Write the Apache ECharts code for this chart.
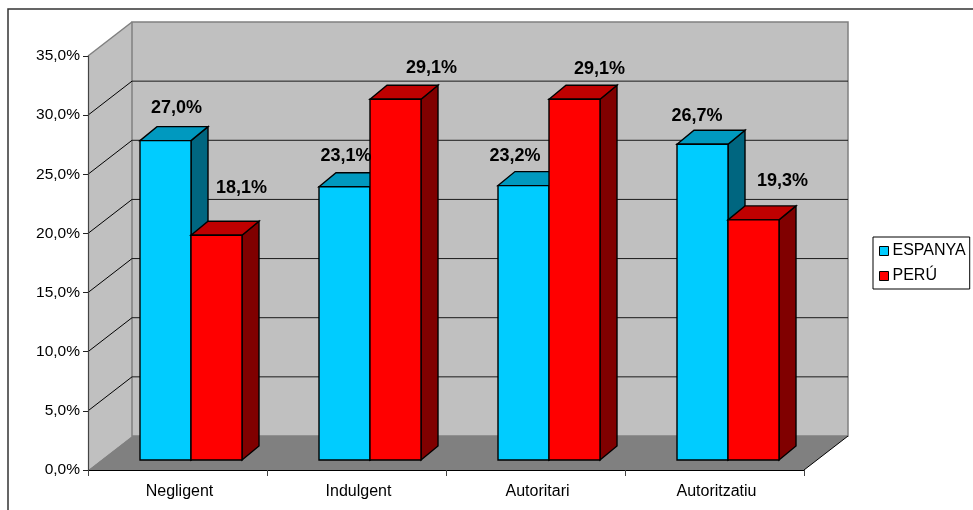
<!DOCTYPE html>
<html>
<head>
<meta charset="utf-8">
<style>html,body{margin:0;padding:0;background:#fff;overflow:hidden}#c{width:973px;height:510px}</style>
<script src="https://cdn.jsdelivr.net/npm/echarts@6/dist/echarts.min.js"></script>
</head>
<body>
<div id="c"></div>
<script>
const categories = ['Negligent', 'Indulgent', 'Autoritari', 'Autoritzatiu'];
const espanyaValues = [27.0, 23.1, 23.2, 26.7];
const peruValues = [19.0, 30.5, 30.5, 20.3];
const espanyaLabels = ['27,0%', '23,1%', '23,2%', '26,7%'];
const peruLabels = ['18,1%', '29,1%', '29,1%', '19,3%'];
const yTicks = [0, 5, 10, 15, 20, 25, 30, 35];

// label offsets from bar top-centre, in pixels
const espanyaLabelOffsets = [[11.5, -33], [2, -31], [-8, -30], [-5, -28]];
const peruLabelOffsets = [[25.5, -47], [36.5, -31], [25.5, -30], [29.5, -39]];

const WALL_DX = 44, WALL_DY = -34;
const BAR_FRONT_DX = 13.5, BAR_FRONT_DY = -10;
const BAR_DX = 17, BAR_DY = -14;
const BAR_RATIO = 51 / 179;

const FONT = '"Liberation Sans", Arial, sans-serif';

function poly(points, fill, stroke, lineWidth) {
  return { type: 'polygon', shape: { points }, style: { fill, stroke: stroke || null, lineWidth: lineWidth || 1 } };
}
function seg(a, b, stroke, lineWidth) {
  return { type: 'line', shape: { x1: a[0], y1: a[1], x2: b[0], y2: b[1] }, style: { stroke, lineWidth: lineWidth || 1 } };
}

function renderWalls(params, api) {
  const r = params.coordSys;
  const x0 = r.x, x1 = r.x + r.width, y0 = r.y, y1 = r.y + r.height;
  const d = (p) => [p[0] + WALL_DX, p[1] + WALL_DY];
  const children = [
    poly([[x0, y1], d([x0, y1]), d([x0, y0]), [x0, y0]], '#C0C0C0', null),
    poly([d([x0, y1]), d([x1, y1]), d([x1, y0]), d([x0, y0])], '#C0C0C0', '#808080', 1.5),
    poly([[x0, y1], [x1, y1], d([x1, y1]), d([x0, y1])], '#808080', null),
    seg([x0, y0], d([x0, y0]), '#808080', 1.5),
    seg([x1, y1], d([x1, y1]), '#000', 1)
  ];
  return { type: 'group', children };
}

function renderGrid(params, api) {
  const v = api.value(0);
  if (v === 0 || v === 35) return null;
  const r = params.coordSys;
  const p = api.coord([0, v]);
  const a = [r.x, p[1]];
  const b = [r.x + WALL_DX, p[1] + WALL_DY];
  const c = [r.x + r.width + WALL_DX, p[1] + WALL_DY];
  return { type: 'group', children: [seg(a, b, '#000', 1), seg(b, c, '#1a1a1a', 1)] };
}

function makeBarRenderer(side, front, topColor, sideColor) {
  return function (params, api) {
    const cat = api.value(0), val = api.value(1);
    const w = api.size([1, 0])[0] * BAR_RATIO;
    const top = api.coord([cat, val]);
    const base = api.coord([cat, 0]);
    const xl = top[0] + BAR_FRONT_DX + (side === 0 ? -w : 0);
    const xr = xl + w;
    const yt = top[1] + BAR_FRONT_DY;
    const yb = base[1] + BAR_FRONT_DY;
    const ln = '#000';
    return {
      type: 'group',
      children: [
        poly([[xr, yb], [xr + BAR_DX, yb + BAR_DY], [xr + BAR_DX, yt + BAR_DY], [xr, yt]], sideColor, ln, 1.4),
        poly([[xl, yt], [xr, yt], [xr + BAR_DX, yt + BAR_DY], [xl + BAR_DX, yt + BAR_DY]], topColor, ln, 1.4),
        poly([[xl, yb], [xr, yb], [xr, yt], [xl, yt]], front, ln, 1.4)
      ]
    };
  };
}

function makeLabelRenderer(side, labels, offsets) {
  return function (params, api) {
    const cat = api.value(0), val = api.value(1);
    const w = api.size([1, 0])[0] * BAR_RATIO;
    const top = api.coord([cat, val]);
    const xc = top[0] + 13 + (side === 0 ? -w / 2 : w / 2);
    const yt = top[1] + BAR_FRONT_DY;
    const off = offsets[params.dataIndex];
    return {
      type: 'text',
      style: {
        text: labels[params.dataIndex],
        x: xc + off[0], y: yt + off[1],
        textAlign: 'center', textVerticalAlign: 'middle',
        font: 'bold 18px ' + FONT, fill: '#000'
      }
    };
  };
}

const chart = echarts.init(document.getElementById('c'), null, { renderer: 'canvas' });
chart.setOption({
  animation: false,
  backgroundColor: '#fff',
  grid: { left: 88, right: 169, top: 56, bottom: 40 },
  legend: {
    orient: 'vertical', left: 873, top: 237,
    padding: [6, 4, 5, 6],
    itemWidth: 9, itemHeight: 9, itemGap: 9,
    borderColor: '#000', borderWidth: 1,
    selectedMode: false,
    textStyle: { fontFamily: FONT, fontSize: 16, color: '#000', padding: [0, 0, 0, -1] },
    data: [
      { name: 'ESPANYA', icon: 'rect', itemStyle: { color: '#00CCFF', borderColor: '#000', borderWidth: 1 } },
      { name: 'PERÚ', icon: 'rect', itemStyle: { color: '#FF0000', borderColor: '#000', borderWidth: 1 } }
    ]
  },
  xAxis: {
    type: 'category', data: categories, boundaryGap: true, z: 6,
    axisLine: { show: true, lineStyle: { color: '#000', width: 1.2 } },
    axisTick: { show: true, alignWithLabel: false, length: 6, lineStyle: { color: '#444' } },
    axisLabel: { fontFamily: FONT, fontSize: 16, color: '#000', margin: 14, padding: [0, 0, 0, 4] },
    splitLine: { show: false }
  },
  yAxis: {
    type: 'value', min: 0, max: 35, interval: 5, z: 6,
    axisLine: { show: true, lineStyle: { color: '#444', width: 1.2 } },
    axisTick: { show: true, length: 5, lineStyle: { color: '#222' } },
    axisLabel: {
      fontFamily: FONT, fontSize: 15.5, color: '#000', margin: 8, padding: [2, 0, 0, 0],
      formatter: (v) => v.toFixed(1).replace('.', ',') + '%'
    },
    splitLine: { show: false }
  },
  series: [
    { type: 'custom', name: 'walls', z: 1, silent: true, renderItem: renderWalls, data: [[0]] , encode:{x:-1,y:-1}},
    { type: 'custom', name: 'grid', z: 2, silent: true, renderItem: renderGrid, data: yTicks.map(v => [v]), encode:{x:-1,y:-1} },
    { type: 'custom', name: 'ESPANYA', z: 3, itemStyle: { color: '#00CCFF' },
      renderItem: makeBarRenderer(0, '#00CCFF', '#0099BF', '#006680'),
      encode: { x: 0, y: 1 }, data: espanyaValues.map((v, i) => [i, v]) },
    { type: 'custom', name: 'PERÚ', z: 3, itemStyle: { color: '#FF0000' },
      renderItem: makeBarRenderer(1, '#FF0000', '#BF0000', '#800000'),
      encode: { x: 0, y: 1 }, data: peruValues.map((v, i) => [i, v]) },
    { type: 'custom', name: 'labelsE', z: 5, silent: true,
      renderItem: makeLabelRenderer(0, espanyaLabels, espanyaLabelOffsets),
      encode: { x: 0, y: 1 }, data: espanyaValues.map((v, i) => [i, v]) },
    { type: 'custom', name: 'labelsP', z: 5, silent: true,
      renderItem: makeLabelRenderer(1, peruLabels, peruLabelOffsets),
      encode: { x: 0, y: 1 }, data: peruValues.map((v, i) => [i, v]) }
  ],
  graphic: [{
    type: 'polyline', silent: true, z: 10,
    shape: { points: [[8, 510], [8, 9], [973, 9]] },
    style: { fill: null, stroke: '#333', lineWidth: 1.5 }
  }]
});
</script>
</body>
</html>
